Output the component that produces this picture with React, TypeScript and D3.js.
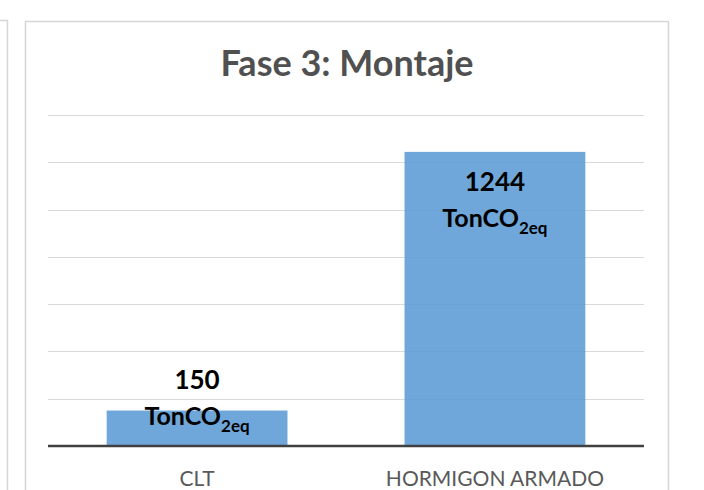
import React from 'react';
import * as d3 from 'd3';

// datos del gráfico
const categories = ['CLT', 'HORMIGON ARMADO'];
const values = [150, 1244];
const unitMain = 'TonCO';
const unitSub = '2eq';
const yTicks = [0, 200, 400, 600, 800, 1000, 1200, 1400];
const title = 'Fase 3: Montaje';

const width = 704;
const height = 490;
const font = 'Lato, "Open Sans", sans-serif';

const App = () => {
  const plot = { left: 48, right: 644, top: 115, bottom: 446 };

  const x = d3.scaleBand()
    .domain(categories)
    .range([plot.left, plot.right])
    .paddingInner(0.393)
    .paddingOuter(0.197);

  const y = d3.scaleLinear()
    .domain([0, 1400])
    .range([plot.bottom, plot.top]);

  const frame = { x: 25.5, y: 21.5, w: 643, h: 500 };

  return (
    <svg width={width} height={height}
      style={{ position: 'absolute', left: 0, top: 0, background: '#fff' }}>
      {/* panel anterior (borde) */}
      <path d="M0,20.5 H7.5 V490" fill="none" stroke="#d6d6d6" strokeWidth={1.5} />
      {/* marco del gráfico */}
      <rect x={frame.x} y={frame.y} width={frame.w} height={frame.h}
        fill="#fff" stroke="#d6d6d6" strokeWidth={1.5} />

      <text x={frame.x + frame.w / 2} y={76} textAnchor="middle"
        fontFamily={font} fontWeight="bold" fontSize={36} fill="#505050">
        {title}
      </text>

      {/* líneas de cuadrícula */}
      {yTicks.filter(t => t > 0).map(t => (
        <line key={t} x1={plot.left} x2={plot.right}
          y1={Math.round(y(t)) + 0.5} y2={Math.round(y(t)) + 0.5}
          stroke="#d9d9d9" strokeWidth={1} />
      ))}

      {/* barras */}
      {categories.map((c, i) => (
        <rect key={c} x={x(c)} y={y(values[i])}
          width={x.bandwidth()} height={y(0) - y(values[i])}
          fill="#5B9BD5" fillOpacity={0.88} />
      ))}

      {/* eje */}
      <line x1={plot.left} x2={plot.right} y1={y(0)} y2={y(0)}
        stroke="#404040" strokeWidth={2.5} />

      {/* etiquetas de datos */}
      {categories.map((c, i) => {
        const cx = (x(c) || 0) + x.bandwidth() / 2;
        const top = y(values[i]);
        const inside = y(0) - top > 100;
        const b1 = inside ? top + 39 : top - 22;
        return (
          <g key={c} fontFamily={font} fontWeight="bold" fill="#000" textAnchor="middle">
            <text x={cx} y={b1} fontSize={26}>{values[i]}</text>
            <text x={cx} y={b1 + 36} fontSize={25}>
              {unitMain}
              <tspan fontSize={17} dy={7}>{unitSub}</tspan>
            </text>
          </g>
        );
      })}

      {/* etiquetas de categorías */}
      {categories.map(c => (
        <text key={c} x={(x(c) || 0) + x.bandwidth() / 2} y={486}
          textAnchor="middle" fontFamily={font} fontSize={21} fill="#595959">
          {c}
        </text>
      ))}
    </svg>
  );
};

export default App;
